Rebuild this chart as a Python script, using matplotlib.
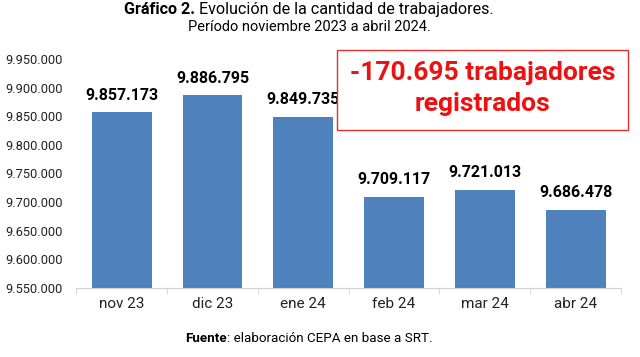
import matplotlib.pyplot as plt
import numpy as np
from matplotlib.ticker import FuncFormatter
from matplotlib.patches import Rectangle

plt.rcParams['font.family'] = ['Roboto', 'DejaVu Sans']

# data
meses = ['nov 23', 'dic 23', 'ene 24', 'feb 24', 'mar 24', 'abr 24']
trabajadores = [9857173, 9886795, 9849735, 9709117, 9721013, 9686478]

W, H = 640, 357
fig = plt.figure(figsize=(6.4, 3.57), dpi=100)
ax = fig.add_axes([76.3 / W, 1 - 287.6 / H, (621 - 76.3) / W, (287.6 - 59.3) / H])

x = np.arange(len(meses))
ax.bar(x, trabajadores, width=0.66, color='#4F81BD')

ax.set_ylim(9550000, 9950000)
ax.set_xlim(-0.5, len(meses) - 0.5)
ax.set_yticks(np.arange(9550000, 9950001, 50000))
ax.yaxis.set_major_formatter(FuncFormatter(lambda v, p: f'{int(v):,}'.replace(',', '.')))
ax.set_xticks(x)
ax.set_xticklabels(meses, fontsize=11, color='#222222')
ax.set_xticks(np.arange(-0.5, len(meses), 1), minor=True)
ax.tick_params(axis='x', which='major', length=0, pad=7)
ax.tick_params(axis='x', which='minor', length=4, color='#d0d0d0')
ax.tick_params(axis='y', length=0, labelsize=9.3, pad=10, labelcolor='#222222')

for s in ['top', 'right', 'left']:
    ax.spines[s].set_visible(False)
ax.spines['bottom'].set_color('#d0d0d0')

for xi, v in zip(x, trabajadores):
    ax.text(xi, v + 17000, f'{v:,}'.replace(',', '.'), ha='center', va='bottom',
            fontsize=11.5, fontweight='bold')

# centred title with bold prefix
fig.canvas.draw()
r = fig.canvas.get_renderer()
def mixed_line(y, bold, normal, size, cx):
    tb = fig.text(0, y, bold, ha='left', va='baseline', fontsize=size, fontweight='bold')
    tn = fig.text(0, y, normal, ha='left', va='baseline', fontsize=size)
    wb = tb.get_window_extent(r).width / W
    wn = tn.get_window_extent(r).width / W
    x0 = cx - (wb + wn) / 2
    tb.set_x(x0)
    tn.set_x(x0 + wb)

cx = 309 / W
mixed_line(1 - 14 / H, 'Gráfico 2.', ' Evolución de la cantidad de trabajadores.', 11.6, cx)
fig.text(cx, 1 - 31 / H, 'Período noviembre 2023 a abril 2024.', ha='center', va='baseline', fontsize=10.5)
mixed_line(1 - 342 / H, 'Fuente', ': elaboración CEPA en base a SRT.', 9.6, cx)

# annotation box
fig.add_artist(Rectangle((337 / W, 1 - 130 / H), 291 / W, 80 / H, transform=fig.transFigure,
                         fc='white', ec='#e03030', lw=1))
fig.text(482.5 / W, 1 - 80 / H, '-170.695 trabajadores', ha='center', va='baseline',
         fontsize=19, fontweight='bold', color='#ee1111')
fig.text(482.5 / W, 1 - 111 / H, 'registrados', ha='center', va='baseline',
         fontsize=19, fontweight='bold', color='#ee1111')

fig.savefig('out.png', dpi=100)
